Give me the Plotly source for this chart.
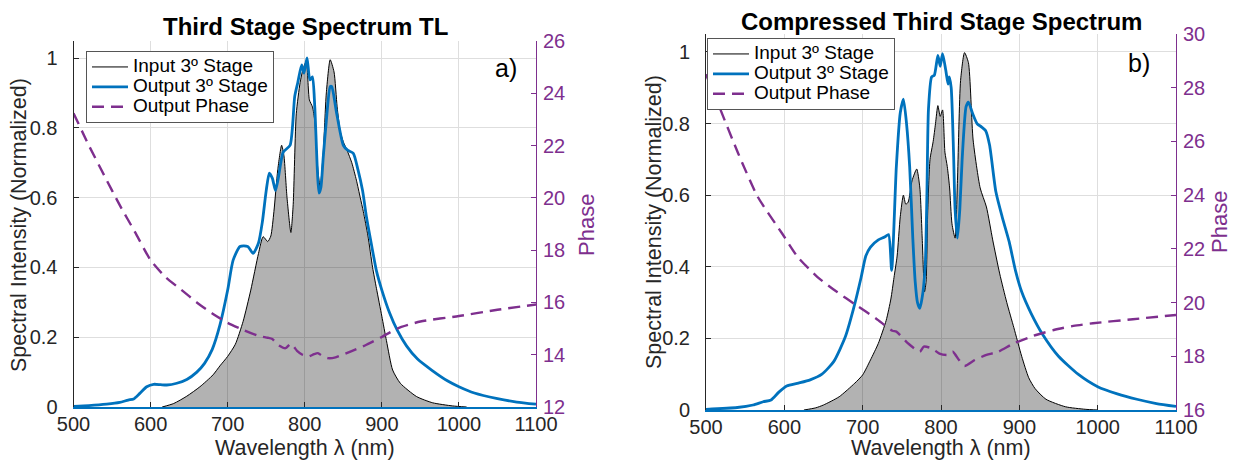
import plotly.graph_objects as go

# ---------------- data: panel a) ----------------
wl_in_a = [615, 630, 647, 664, 681, 690, 700, 710, 720, 730, 740, 746, 752, 756, 760, 765, 770,
           773, 777, 782, 785, 789, 794, 798, 802, 806, 810, 813, 817, 820, 824, 828, 833, 838,
           842, 846, 850, 855, 861, 867, 872, 876, 882, 888, 893, 900, 906, 914, 924, 945, 966, 992, 1010]
in_a = [0.0, 0.01, 0.031, 0.058, 0.092, 0.118, 0.145, 0.18, 0.245, 0.335, 0.44, 0.488, 0.474, 0.49,
        0.56, 0.68, 0.75, 0.72, 0.6, 0.5, 0.58, 0.84, 0.93, 0.97, 0.99, 0.88, 0.86, 0.82, 0.68, 0.63,
        0.73, 0.9, 0.995, 0.96, 0.86, 0.79, 0.76, 0.735, 0.7, 0.65, 0.6, 0.56, 0.49, 0.4, 0.34,
        0.26, 0.19, 0.106, 0.068, 0.03, 0.012, 0.003, 0.0]

wl_out_a = [500, 520, 543, 560, 571, 578, 586, 595, 604, 613, 621, 634, 647, 660, 670, 680, 690,
            700, 707, 716, 726, 733, 740, 745, 750, 754, 758, 762, 766, 772, 781, 787, 791, 796,
            799, 803, 806.6, 810, 813, 818.5, 821, 824, 828, 833, 835, 841.5, 850, 856, 863, 869,
            875, 880, 887, 893, 900, 910, 920, 932, 946, 965, 985, 1000, 1020, 1050, 1075, 1100]
out_a = [0.002, 0.004, 0.008, 0.013, 0.02, 0.023, 0.039, 0.058, 0.065, 0.064, 0.063, 0.068, 0.079,
         0.1, 0.125, 0.165, 0.235, 0.335, 0.42, 0.46, 0.46, 0.44, 0.47, 0.53, 0.62, 0.67, 0.655,
         0.62, 0.66, 0.73, 0.75, 0.89, 0.93, 0.98, 0.957, 1.0, 0.937, 0.946, 0.86, 0.613, 0.63,
         0.716, 0.82, 0.918, 0.918, 0.84, 0.75, 0.735, 0.727, 0.68, 0.62, 0.545, 0.46, 0.39,
         0.335, 0.27, 0.22, 0.175, 0.138, 0.105, 0.075, 0.058, 0.04, 0.024, 0.014, 0.008]

wl_ph_a = [500, 520, 540, 560, 580, 600, 620, 640, 660, 680, 700, 720, 740, 752, 758, 765, 775,
           782, 790, 797, 805, 812, 817, 823, 830, 840, 860, 880, 900, 920, 950, 1000, 1050, 1100]
ph_a = [23.24, 22.0, 20.85, 19.72, 18.68, 17.62, 16.95, 16.48, 16.0, 15.58, 15.22, 14.95, 14.72,
        14.65, 14.6, 14.38, 14.25, 14.42, 14.15, 14.0, 13.93, 14.02, 14.06, 13.95, 13.87, 13.9,
        14.13, 14.38, 14.68, 15.0, 15.27, 15.48, 15.72, 15.92]

# ---------------- data: panel b) ----------------
wl_in_b = [625, 640, 650, 670, 690, 700, 710, 720, 730, 736, 740, 744, 748, 752, 755, 758, 763,
           769, 773, 776, 779, 781, 783, 786, 790, 793, 796, 799, 802, 805, 808, 811, 814, 818,
           821, 825, 830, 835, 841, 850, 858, 866, 875, 884, 893, 903, 912, 920, 934, 959, 984, 1000]
in_b = [0.0, 0.006, 0.014, 0.037, 0.075, 0.098, 0.14, 0.186, 0.25, 0.31, 0.37, 0.43, 0.54, 0.6,
        0.575, 0.58, 0.64, 0.673, 0.62, 0.48, 0.33, 0.36, 0.55, 0.7, 0.75, 0.8, 0.85, 0.82, 0.838,
        0.72, 0.68, 0.62, 0.52, 0.48, 0.64, 0.92, 0.998, 0.97, 0.754, 0.62, 0.567, 0.475, 0.38,
        0.3, 0.23, 0.15, 0.09, 0.06, 0.03, 0.009, 0.002, 0.0]

wl_out_b = [500, 540, 560, 573, 583, 593, 603, 618, 633, 648, 663, 678, 688, 698, 704, 710, 720,
            728, 733, 737, 743, 748, 752, 756, 760, 764, 767, 770, 773, 777, 780, 782, 784, 788,
            791.5, 796, 799, 802, 806, 809, 810.5, 813, 816, 818, 821, 824, 827, 832, 835, 840,
            846, 852, 857, 862, 870, 878, 887, 895, 903, 915, 930, 950, 975, 1000, 1025, 1050,
            1075, 1100]
out_b = [0.002, 0.007, 0.014, 0.023, 0.028, 0.05, 0.067, 0.075, 0.084, 0.1, 0.135, 0.205, 0.28,
         0.37, 0.43, 0.455, 0.475, 0.483, 0.49, 0.39, 0.68, 0.83, 0.868, 0.8, 0.68, 0.48, 0.36,
         0.3, 0.284, 0.33, 0.41, 0.6, 0.84, 0.93, 0.935, 0.99, 0.96, 0.995, 0.95, 0.91, 0.93, 0.9,
         0.72, 0.56, 0.48, 0.56, 0.7, 0.847, 0.86, 0.83, 0.8, 0.79, 0.78, 0.74, 0.61, 0.54, 0.47,
         0.39, 0.33, 0.27, 0.21, 0.15, 0.1, 0.065, 0.045, 0.03, 0.018, 0.01]

wl_ph_b = [500, 516, 541, 566, 597, 617, 642, 667, 692, 717, 738, 743, 758, 773, 778, 788, 798,
           808, 815, 823, 830, 843, 858, 873, 893, 918, 944, 969, 994, 1045, 1100]
ph_b = [28.5, 27.36, 25.56, 23.94, 22.58, 21.7, 20.96, 20.4, 19.9, 19.41, 18.95, 18.92, 18.48,
        18.17, 18.36, 18.3, 18.1, 18.05, 18.17, 17.86, 17.64, 17.86, 18.05, 18.17, 18.48, 18.76,
        18.98, 19.13, 19.23, 19.38, 19.54]

# ---------------- ticks and text ----------------
x_ticks = [500, 600, 700, 800, 900, 1000, 1100]
y_ticks = [0, 0.2, 0.4, 0.6, 0.8, 1]
y_tick_text = ["0", "0.2", "0.4", "0.6", "0.8", "1"]
phase_ticks_a = [12, 14, 16, 18, 20, 22, 24, 26]
phase_ticks_b = [16, 18, 20, 22, 24, 26, 28, 30]
names = ["Input 3º Stage", "Output 3º Stage", "Output Phase"]
titles = ["Third Stage Spectrum TL", "Compressed Third Stage Spectrum"]
panel_tags = ["a)", "b)"]
x_title = "Wavelength λ (nm)"
y_title = "Spectral Intensity (Normalized)"
phase_title = "Phase"

BLUE = "#0072BD"
PURPLE = "#7E2F8E"
DARK = "#262626"
GRID = "#DEDEDE"
FONT = "Liberation Sans, Arial, Helvetica, sans-serif"


def legend_label(s):
    return '<span style="font-size:19px">' + s + "</span>"


fig = go.Figure()

panels = [
    (wl_in_a, in_a, wl_out_a, out_a, wl_ph_a, ph_a, "x", "y", "y2", "legend"),
    (wl_in_b, in_b, wl_out_b, out_b, wl_ph_b, ph_b, "x2", "y3", "y4", "legend2"),
]
for (wi, vi, wo, vo, wp, vp, xa, ya, ya2, lg) in panels:
    # shaded area under the input spectrum
    fig.add_trace(go.Scatter(x=wi, y=vi, mode="lines", fill="tozeroy",
                             fillcolor="rgba(0,0,0,0.30)",
                             line=dict(color="rgba(0,0,0,0)", width=0, shape="spline",
                                       smoothing=0.6),
                             showlegend=False, hoverinfo="skip",
                             xaxis=xa, yaxis=ya, legend=lg))
    fig.add_trace(go.Scatter(x=wi, y=vi, name=legend_label(names[0]), mode="lines",
                             line=dict(color="black", width=1, shape="spline", smoothing=0.6),
                             xaxis=xa, yaxis=ya, legend=lg))
    fig.add_trace(go.Scatter(x=wo, y=vo, name=legend_label(names[1]), mode="lines",
                             line=dict(color=BLUE, width=2.8, shape="spline", smoothing=0.6),
                             xaxis=xa, yaxis=ya, legend=lg))
    fig.add_trace(go.Scatter(x=wp, y=vp, name=legend_label(names[2]), mode="lines",
                             line=dict(color=PURPLE, width=2.4, dash="12px,7px",
                                       shape="spline", smoothing=0.6),
                             xaxis=xa, yaxis=ya2, legend=lg))


def xaxis_cfg(domain, anchor):
    return dict(domain=domain, anchor=anchor, range=[500, 1100], tickvals=x_ticks,
                showgrid=True, gridcolor=GRID, gridwidth=1, zeroline=False,
                showline=True, linecolor=BLUE, linewidth=2,
                ticks="inside", ticklen=5, tickcolor=DARK, ticklabelstandoff=-2,
                tickfont=dict(size=20, color=DARK, family=FONT),
                automargin=False, fixedrange=True)


def yaxis_cfg(domain, anchor, top):
    return dict(domain=domain, anchor=anchor, range=[0, top], tickvals=y_ticks,
                ticktext=y_tick_text, showgrid=True, gridcolor=GRID, gridwidth=1,
                zeroline=False, showline=True, linecolor=DARK, linewidth=1,
                ticks="inside", ticklen=5, tickcolor=DARK, ticklabelstandoff=11,
                tickfont=dict(size=20, color=DARK, family=FONT),
                automargin=False, fixedrange=True)


def phase_cfg(over, anchor, rng, ticks):
    return dict(overlaying=over, anchor=anchor, side="right", range=rng, tickvals=ticks,
                showgrid=False, zeroline=False, showline=True, linecolor=PURPLE, linewidth=1,
                ticks="inside", ticklen=5, tickcolor=PURPLE, ticklabelstandoff=2,
                tickfont=dict(size=20, color=PURPLE, family=FONT),
                automargin=False, fixedrange=True)


W, H = 1234, 460


def text_ann(text, xpx, ypx, size, color, angle=0):
    return dict(text=text, x=xpx / W, y=1 - ypx / H, xref="paper", yref="paper",
                xanchor="center", yanchor="middle", showarrow=False, textangle=angle,
                font=dict(size=size, color=color, family=FONT))


legend_common = dict(xanchor="left", yanchor="top", bgcolor="white", bordercolor="#555555",
                     borderwidth=1, font=dict(size=13, color="black", family=FONT),
                     tracegroupgap=0, itemwidth=36)

fig.update_layout(
    width=W, height=H,
    margin=dict(l=0, r=0, t=0, b=0),
    paper_bgcolor="white", plot_bgcolor="white",
    font=dict(family=FONT, color=DARK),
    xaxis=xaxis_cfg([73.5 / W, 536 / W], "y"),
    yaxis=yaxis_cfg([53 / H, 419 / H], "x", 1.0487),
    yaxis2=phase_cfg("y", "x", [12, 26], phase_ticks_a),
    xaxis2=xaxis_cfg([706 / W, 1176 / W], "y3"),
    yaxis3=yaxis_cfg([50 / H, 426 / H], "x2", 1.050),
    yaxis4=phase_cfg("y3", "x2", [16, 30], phase_ticks_b),
    legend=dict(x=86 / W, y=1 - 51 / H, **legend_common),
    legend2=dict(x=707 / W, y=1 - 38 / H, **legend_common),
    showlegend=True,
    annotations=[
        text_ann("<b>" + titles[0] + "</b>", 305, 27, 24, "black"),
        text_ann("<b>" + titles[1] + "</b>", 941, 22, 24, "black"),
        text_ann(x_title, 305, 448, 21.5, DARK),
        text_ann(x_title, 941, 448, 21.5, DARK),
        text_ann(y_title, 19, 225, 21.5, DARK, -90),
        text_ann(y_title, 654, 222, 21.5, DARK, -90),
        text_ann(phase_title, 587, 225, 22, PURPLE, -90),
        text_ann(phase_title, 1219, 222, 22, PURPLE, -90),
        dict(text=panel_tags[0], x=1061, y=0.971, xref="x", yref="y", xanchor="center",
             yanchor="middle", showarrow=False, font=dict(size=25, color="black", family=FONT)),
        dict(text=panel_tags[1], x=1053, y=0.969, xref="x2", yref="y3", xanchor="center",
             yanchor="middle", showarrow=False, font=dict(size=25, color="black", family=FONT)),
    ],
)

fig.write_html("out.html",
               config={"displayModeBar": False},
               post_script="document.body.style.margin='0';"
                           "document.body.style.padding='0';"
                           "document.body.style.overflow='hidden';")
